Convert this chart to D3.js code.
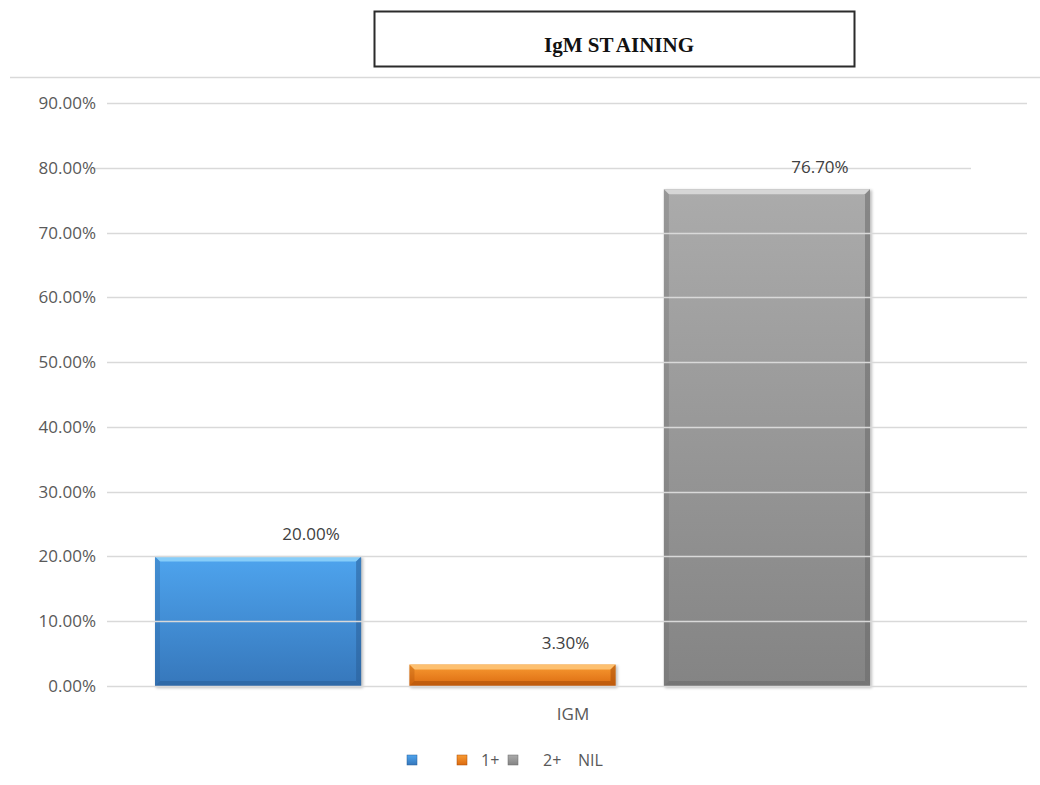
<!DOCTYPE html>
<html>
<head>
<meta charset="utf-8">
<script src="https://cdn.jsdelivr.net/npm/d3@7"></script>
<style>
  html, body { margin: 0; padding: 0; background: #fff; }
  svg { display: block; }
  text { font-family: "Open Sans", "Liberation Sans", sans-serif; }
</style>
</head>
<body>
<svg id="chart" width="1040" height="785"></svg>
<script>
// IgM staining intensity distribution
const categories = ["IGM"];
const seriesNames = ["", "1+", "2+    NIL"];
const seriesValues = [0.20, 0.033, 0.767];
const seriesLabels = ["20.00%", "3.30%", "76.70%"];
const yTicks = [0, 0.1, 0.2, 0.3, 0.4, 0.5, 0.6, 0.7, 0.8, 0.9];
const titleParts = ["IgM ST", "AINING"];

// Fill palettes per series: [top, bottom, bevel-light, bevel-dark]
const palettes = [
  ["#4ea4ee", "#3677bb", "#86cdf9", "#2a5f98"],
  ["#f99b32", "#db6a10", "#fdc070", "#a84c08"],
  ["#ababab", "#848484", "#d6d6d6", "#6a6a6a"]
];

const svg = d3.select("#chart");
const defs = svg.append("defs");

palettes.forEach((p, i) => {
  const g = defs.append("linearGradient")
    .attr("id", "grad" + i).attr("x1", 0).attr("y1", 0).attr("x2", 0).attr("y2", 1);
  g.append("stop").attr("offset", "0%").attr("stop-color", p[0]);
  g.append("stop").attr("offset", "100%").attr("stop-color", p[1]);
});
const shadow = defs.append("filter").attr("id", "shadow")
  .attr("x", "-5%").attr("y", "-5%").attr("width", "115%").attr("height", "115%");
shadow.append("feGaussianBlur").attr("stdDeviation", 1.5);

// Title box
svg.append("rect")
  .attr("x", 374.5).attr("y", 11.5).attr("width", 480).attr("height", 55)
  .attr("fill", "#fff").attr("stroke", "#2b2b2b").attr("stroke-width", 2);
const title = svg.append("text")
  .attr("x", 619).attr("y", 52)
  .attr("text-anchor", "middle")
  .style("font-family", "'Liberation Serif', 'Times New Roman', serif")
  .style("font-weight", "bold")
  .style("font-size", "21px")
  .attr("fill", "#111");
title.append("tspan").text(titleParts[0]);
title.append("tspan").attr("dx", 4).text(titleParts[1]);

// Chart area top border
svg.append("line")
  .attr("x1", 10).attr("x2", 1040).attr("y1", 77.5).attr("y2", 77.5)
  .attr("stroke", "#d9d9d9").attr("stroke-width", 1.5);

// Scales
const y = d3.scaleLinear().domain([0, 0.9]).range([686, 103]);
const xCat = d3.scaleBand().domain(categories).range([110, 1036]);
const xSer = d3.scaleBand().domain(d3.range(seriesValues.length))
  .range([155, 870]).paddingInner(0.19).paddingOuter(0);

// Bars
const bars = svg.append("g");
seriesValues.forEach((v, i) => {
  const x = xSer(i), w = xSer.bandwidth();
  const top = y(v), bottom = y(0), h = bottom - top;
  const p = palettes[i];
  const b = Math.min(5, h / 2);
  const g = bars.append("g");
  g.append("rect")
    .attr("x", x + 1).attr("y", top + 1).attr("width", w + 1).attr("height", h + 1)
    .attr("fill", "#000").attr("opacity", 0.25).attr("filter", "url(#shadow)");
  g.append("rect")
    .attr("x", x).attr("y", top).attr("width", w).attr("height", h)
    .attr("fill", `url(#grad${i})`);
  // bevel: top, left, right, bottom
  g.append("polygon")
    .attr("points", [[x, top], [x + w, top], [x + w - b, top + b], [x + b, top + b]].join(" "))
    .attr("fill", p[2]);
  g.append("polygon")
    .attr("points", [[x, top], [x + b, top + b], [x + b, bottom - b], [x, bottom]].join(" "))
    .attr("fill", p[3]).attr("opacity", 0.3);
  g.append("polygon")
    .attr("points", [[x + w, top], [x + w - b, top + b], [x + w - b, bottom - b], [x + w, bottom]].join(" "))
    .attr("fill", p[3]).attr("opacity", 0.55);
  g.append("polygon")
    .attr("points", [[x, bottom], [x + b, bottom - b], [x + w - b, bottom - b], [x + w, bottom]].join(" "))
    .attr("fill", p[3]).attr("opacity", 0.55);
});

// Gridlines (drawn over the bars)
const grid = svg.append("g");
yTicks.forEach(t => {
  const special = Math.abs(t - 0.8) < 1e-9;
  grid.append("line")
    .attr("x1", special ? 93 : 107).attr("x2", special ? 971 : 1027)
    .attr("y1", Math.round(y(t)) + 0.5).attr("y2", Math.round(y(t)) + 0.5)
    .attr("stroke", "#d9d9d9").attr("stroke-width", 1.5);
});

// Y axis labels
const yAxis = d3.axisLeft(y).tickValues(yTicks).tickSize(0).tickPadding(0)
  .tickFormat(d3.format(".2%"));
const ya = svg.append("g").attr("transform", "translate(96,0)").call(yAxis);
ya.select(".domain").remove();
ya.selectAll("text")
  .style("font-family", "'Open Sans', sans-serif")
  .style("font-size", "17px")
  .attr("fill", "#595959");

// Data labels
seriesValues.forEach((v, i) => {
  svg.append("text")
    .attr("x", xSer(i) + xSer.bandwidth() / 2 + 53)
    .attr("y", y(v) - 16)
    .attr("text-anchor", "middle")
    .style("font-size", "17px")
    .attr("fill", "#404040")
    .text(seriesLabels[i]);
});

// Category axis label
svg.append("text")
  .attr("x", xCat(categories[0]) + xCat.bandwidth() / 2)
  .attr("y", 720)
  .attr("text-anchor", "middle")
  .style("font-size", "17px")
  .attr("fill", "#595959")
  .text(categories[0]);

// Legend
const legendX = [407, 457, 508];
const legendTextX = [431, 481, 543];
const legend = svg.append("g");
seriesNames.forEach((name, i) => {
  const lx = legendX[i];
  legend.append("rect")
    .attr("x", lx).attr("y", 755).attr("width", 10).attr("height", 10)
    .attr("fill", `url(#grad${i})`).attr("stroke", palettes[i][3]).attr("stroke-width", 0.5);
  legend.append("text")
    .attr("x", legendTextX[i]).attr("y", 766)
    .style("font-size", "16px")
    .style("white-space", "pre")
    .attr("fill", "#595959")
    .text(name);
});
</script>
</body>
</html>
